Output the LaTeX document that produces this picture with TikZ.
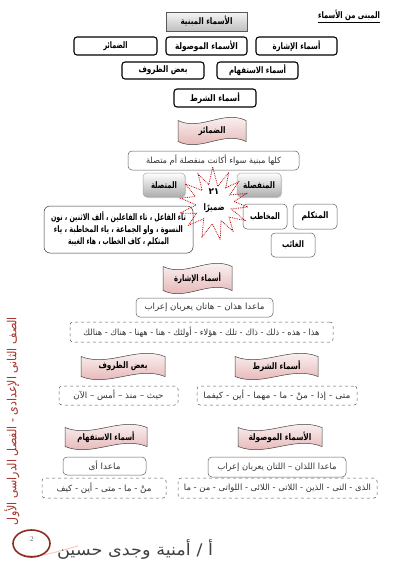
\documentclass[tikz,border=0pt]{standalone}
\usepackage{fontspec}
\usepackage{graphicx}
\usetikzlibrary{shadows,calc}
\TeXXeTstate=1
\newfontfamily\ar[Script=Arabic]{DejaVu Sans}
\setmainfont{Liberation Serif}
\definecolor{darkred}{HTML}{A8342C}
\definecolor{bannerpink}{HTML}{E2AAAA}
\definecolor{txtgray}{HTML}{333333}
\newcommand\fitw[2]{\resizebox{#1pt}{\height}{#2}}
\newcommand\wavebanner[6]{%
 \begin{scope}[shift={(#2,#3)}]
 \pgfmathsetmacro\bw{#4/2}\pgfmathsetmacro\bh{#5/2-3.5}\pgfmathsetmacro\bc{#4/6}
 \shade[top color=white, bottom color=bannerpink, draw=black!75, line width=0.5pt]
   (-\bw,-\bh) .. controls (-\bc,-\bh+11) and (\bc,-\bh-11) .. (\bw,-\bh)
   -- (\bw,\bh) .. controls (\bc,\bh-11) and (-\bc,\bh+11) .. (-\bw,\bh) -- cycle;
 \node[bannertext] (#1) at (0,0) {#6};
 \end{scope}}
\tikzset{
  arb/.style={font=\ar\bfseries\fontsize{9}{11}\selectfont, inner sep=0pt},
  arn/.style={font=\ar\fontsize{8.5}{10}\selectfont, text=txtgray, inner sep=0pt},
  bannertext/.style={arb},
  mainbox/.style={arb, draw=gray!70!black, line width=0.5pt, top color=gray!8, bottom color=gray!50,
     drop shadow={opacity=0.35, shadow xshift=1pt, shadow yshift=-1pt}},
  catbox/.style={arb, draw=black, line width=1.1pt, rounded corners=3pt, fill=white},
  softbox/.style={arn, draw=gray!75!black, line width=0.5pt, rounded corners=4pt, fill=white},
  softboxb/.style={arb, draw=gray!75!black, line width=0.5pt, rounded corners=4pt, fill=white},
  graybtn/.style={arb, draw=gray!70, line width=0.5pt, rounded corners=4pt, top color=white, bottom color=gray!65,
     drop shadow={opacity=0.3, shadow xshift=1pt, shadow yshift=-1pt}},
  dashbox/.style={arn, draw=gray!70!black, dashed, line width=0.5pt, rounded corners=3pt},
  starline/.style={draw=red!75!black, densely dotted, line width=0.8pt},
}
\begin{document}
\begin{tikzpicture}[x=1pt,y=-1pt]
\useasboundingbox (0,0) rectangle (400,565);
\fill[white] (0,0) rectangle (400,565);

% heading
\node[arb] (head) at (349,15.5) {\fitw{62}{\beginR المبنى من الأسماء\endR}};
\draw[line width=0.5pt] ([yshift=-1.5pt]head.south west) -- ([yshift=-1.5pt]head.south east);

\node[mainbox, minimum width=81, minimum height=19] (mabniya) at (206.5,21.5) {\fitw{52}{\beginR الأسماء المبنية\endR}};

\node[catbox, minimum width=83, minimum height=18] (c1) at (115.5,46) {\fitw{24}{\beginR الضمائر\endR}};
\node[catbox, minimum width=81, minimum height=18] (c2) at (206.5,46) {\fitw{63}{\beginR الأسماء الموصولة\endR}};
\node[catbox, minimum width=81, minimum height=18] (c3) at (296.5,46) {\fitw{48}{\beginR أسماء الإشارة\endR}};
\node[catbox, minimum width=82, minimum height=17] (c4) at (163,70.5) {\fitw{49}{\beginR بعض الظروف\endR}};
\node[catbox, minimum width=81, minimum height=17] (c5) at (257.5,70.5) {\fitw{57}{\beginR أسماء الاستفهام\endR}};
\node[catbox, minimum width=82, minimum height=18] (c6) at (215,98) {\fitw{50}{\beginR أسماء الشرط\endR}};

% pronouns
\wavebanner{b1}{212}{131}{68}{28}{\fitw{27}{\beginR الضمائر\endR}}
\node[softbox, minimum width=171, minimum height=19] (kulluha) at (213.5,160.5) {\fitw{135}{\beginR كلها مبنية سواء أكانت منفصلة أم متصلة\endR}};
\node[graybtn, minimum width=42, minimum height=24] (muttasila) at (164,185) {\fitw{26}{\beginR المتصلة\endR}};
\node[graybtn, minimum width=44, minimum height=24] (munfasila) at (259,185) {\fitw{32}{\beginR المنفصلة\endR}};
\node[softboxb, draw=black!80, minimum width=149, minimum height=47, align=center, rounded corners=6pt] (list) at (118.5,229.5)
  {\fitw{135}{\beginR تاء الفاعل ، تاء الفاعلين ، ألف الاثنين ، نون\endR}\\[1pt]\fitw{129}{\beginR النسوة ، واو الجماعة ، ياء المخاطبة ، ياء\endR}\\[1pt]\fitw{101}{\beginR المتكلم ، كاف الخطاب ، هاء الغيبة\endR}};
\node[softboxb, minimum width=44, minimum height=25] (mukhatab) at (265,216.5) {\fitw{30}{\beginR المخاطب\endR}};
\node[softboxb, minimum width=44, minimum height=25] (mutakallim) at (315,216.5) {\fitw{27}{\beginR المتكلم\endR}};
\node[softboxb, minimum width=44, minimum height=24] (ghaib) at (293,245) {\fitw{22}{\beginR الغائب\endR}};

% starburst
\begin{scope}[shift={(214,204)}]
\draw[starline] (80:36) -- (67:18) -- (55:33) -- (41:20) -- (28:35) -- (16:18) -- (5:34) -- (-7:20) -- (-18:34)
 -- (-30:18) -- (-42:33) -- (-54:20) -- (-65:35) -- (-78:18) -- (-92:37) -- (-105:20) -- (-118:34) -- (-131:18)
 -- (-145:35) -- (-158:20) -- (-170:34) -- (177:18) -- (165:35) -- (152:20) -- (140:33) -- (125:18) -- (110:35) -- (95:20) -- cycle;
\node[arb] (n21) at (0,-12) {\beginR ٢١\endR};
\node[arb] (damir) at (0,4) {\fitw{21}{\beginR ضميرًا\endR}};
\end{scope}

% demonstratives
\wavebanner{b2}{197.5}{278.5}{69}{31}{\fitw{47}{\beginR أسماء الإشارة\endR}}
\node[softbox, minimum width=137, minimum height=19] (madahadhan) at (204.5,307.5) {\fitw{120}{\beginR ماعدا هذان – هاتان يعربان إعراب\endR}};
\node[dashbox, minimum width=263, minimum height=20] (d1) at (201.5,332) {\fitw{236}{\beginR هذا - هذه - ذلك - ذاك - تلك - هؤلاء - أولئك - هنا - ههنا - هناك - هنالك\endR}};

% adverbs and conditionals
\wavebanner{b3}{123}{366.5}{84}{27}{\fitw{49}{\beginR بعض الظروف\endR}}
\node[dashbox, minimum width=119, minimum height=19] (d2) at (118.5,395.5) {\fitw{90}{\beginR حيث – منذ – أمس – الآن\endR}};
\wavebanner{b4}{276.5}{366.5}{83}{27}{\fitw{48}{\beginR أسماء الشرط\endR}}
\node[dashbox, minimum width=160, minimum height=19] (d3) at (277,395.5) {\fitw{147}{\beginR متى - إذا - منْ - ما - مهما - أين - كيفما\endR}};

% interrogatives and relatives
\wavebanner{b5}{106}{437}{82}{26}{\fitw{57}{\beginR أسماء الاستفهام\endR}}
\wavebanner{b6}{280}{437}{84}{26}{\fitw{63}{\beginR الأسماء الموصولة\endR}}
\node[softbox, minimum width=83, minimum height=18] (maada) at (104.5,466) {\fitw{32}{\beginR ماعدا أى\endR}};
\node[softbox, minimum width=138, minimum height=20] (madalladhan) at (277,467) {\fitw{119}{\beginR ماعدا اللذان – اللتان يعربان إعراب\endR}};
\node[dashbox, minimum width=124, minimum height=20] (d4) at (104,488) {\fitw{95}{\beginR منْ - ما - متى - أين - كيف\endR}};
\node[dashbox, minimum width=199, minimum height=20] (d5) at (277.5,488) {\fitw{187}{\beginR الذى - التى - الذين - اللاتى - اللائى - اللواتى - من - ما\endR}};

% side text
\node[font=\ar\fontsize{12.5}{14}\selectfont, text=darkred, rotate=90, inner sep=0pt] (side) at (12,421) {\fitw{208}{\beginR الصف الثانى الإعدادى - الفصل الدراسى الأول\endR}};

% footer
\draw[red!25, line width=0.9pt] (18,553) .. controls (35,560) and (55,552) .. (78,546);
\draw[darkred!85!black, line width=1.6pt] (31.5,543.5) ellipse (18.5 and 13.5);
\node[font=\fontsize{7}{8}\selectfont, text=gray!80!black, inner sep=0pt] (pg) at (32,539) {2};
\node[font=\ar\fontsize{16}{18}\selectfont, text=black!75, inner sep=0pt] (author) at (135,549) {\fitw{156}{\beginR أ / أمنية وجدى حسين\endR}};
\end{tikzpicture}
\end{document}
